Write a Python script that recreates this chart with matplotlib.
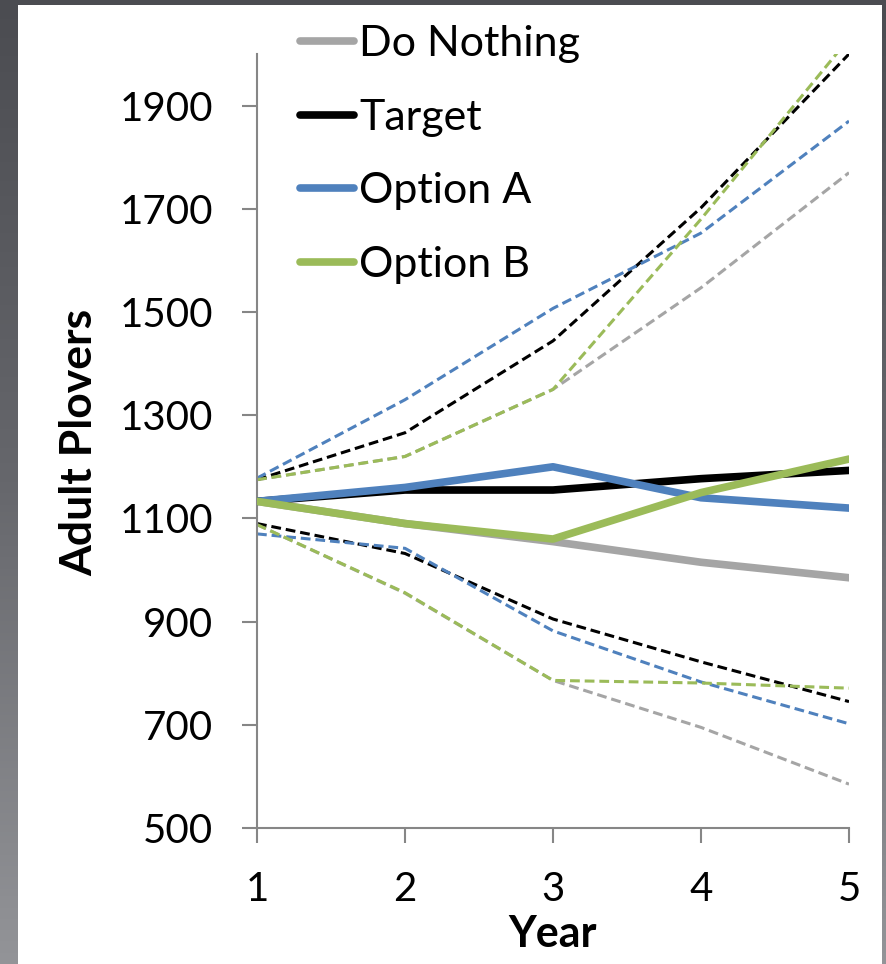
import numpy as np
import matplotlib.pyplot as plt
from matplotlib.patches import Rectangle

plt.rcParams['font.family'] = ['Lato', 'DejaVu Sans']

years = [1, 2, 3, 4, 5]

# main projections (solid)
do_nothing = [1133, 1090, 1055, 1015, 985]
target = [1133, 1155, 1155, 1177, 1193]
option_a = [1133, 1160, 1200, 1140, 1120]
option_b = [1133, 1090, 1060, 1150, 1215]

# upper / lower bounds (dashed)
do_nothing_hi = [1175, 1220, 1350, 1547, 1770]
do_nothing_lo = [1088, 955, 786, 695, 585]
target_hi = [1175, 1266, 1444, 1702, 2000]
target_lo = [1090, 1032, 905, 822, 745]
option_a_hi = [1178, 1330, 1507, 1653, 1870]
option_a_lo = [1070, 1042, 882, 783, 702]
option_b_hi = [1175, 1220, 1350, 1680, 2030]
option_b_lo = [1088, 956, 786, 781, 771]

labels = ["Do Nothing", "Target", "Option A", "Option B"]
colors = ["#A5A5A5", "#000000", "#4F81BD", "#9BBB59"]

fig = plt.figure(figsize=(8.87, 9.64), dpi=100)

# dark gradient backdrop + white panel
bg = fig.add_axes([0, 0, 1, 1], zorder=-10)
grad = np.linspace(0, 1, 256).reshape(-1, 1)
bg.imshow(grad, aspect='auto', cmap=plt.matplotlib.colors.LinearSegmentedColormap.from_list(
    'bg', ['#4b4c51', '#66676c', '#939498']), extent=[0, 1, 0, 1], origin='upper')
bg.add_patch(Rectangle((18 / 887, 0), (882 - 18) / 887, 1 - 5 / 964,
                       facecolor='white', edgecolor='none', transform=bg.transAxes))
bg.set_xlim(0, 1)
bg.set_ylim(0, 1)
bg.axis('off')

ax = fig.add_axes([257 / 887, 1 - 828 / 964, (849 - 257) / 887, (828 - 54) / 964])
ax.set_facecolor('none')

solid = [do_nothing, target, option_a, option_b]
highs = [do_nothing_hi, target_hi, option_a_hi, option_b_hi]
lows = [do_nothing_lo, target_lo, option_a_lo, option_b_lo]

for hi, lo, c in zip(highs, lows, colors):
    for s in (hi, lo):
        ax.plot(years, s, color=c, lw=2.2, dashes=(3.2, 1.6), zorder=2)

for s, c, lab in zip(solid, colors, labels):
    ax.plot(years, s, color=c, lw=5.5, label=lab, zorder=3, solid_capstyle='round')

ax.set_xlim(1, 5)
ax.set_ylim(500, 2000)
ax.set_xticks(years)
ax.set_yticks(range(500, 2000, 200))

for side in ('top', 'right'):
    ax.spines[side].set_visible(False)
for side in ('left', 'bottom'):
    ax.spines[side].set_color('#868686')
    ax.spines[side].set_linewidth(1.5)

ax.tick_params(axis='both', direction='out', length=10.8, width=1.5,
               color='#868686', labelsize=29)
ax.tick_params(axis='y', pad=21)
ax.tick_params(axis='x', pad=20)

fig.text(553 / 887, 1 - 934 / 964, "Year", ha='center', va='center',
         fontsize=31, fontweight='bold')
fig.text(79 / 887, 1 - 442 / 964, "Adult Plovers", ha='center', va='center',
         rotation=90, fontsize=32, fontweight='bold')

ax.legend(loc='upper left', bbox_to_anchor=(300 / 887, 1 - 25 / 964),
          bbox_transform=fig.transFigure, frameon=False, fontsize=31,
          handlelength=1.25, handletextpad=0.13, labelspacing=0.83,
          borderpad=0, borderaxespad=0)

fig.savefig("out.png", dpi=100)
